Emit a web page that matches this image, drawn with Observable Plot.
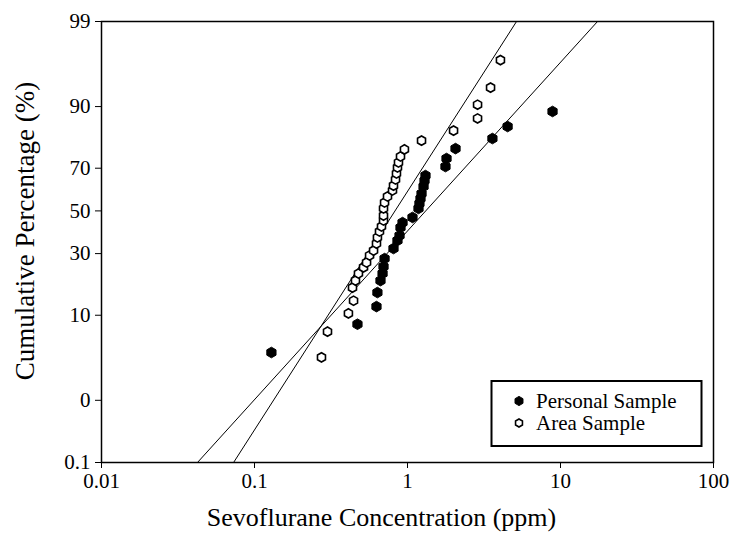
<!DOCTYPE html>
<html>
<head>
<meta charset="utf-8">
<script src="https://cdn.jsdelivr.net/npm/d3@7"></script>
<script src="https://cdn.jsdelivr.net/npm/@observablehq/plot@0.6"></script>
<style>
  html, body { margin: 0; padding: 0; background: #fff; }
</style>
</head>
<body>
<div id="chart"></div>
<script>
// ---- Data ----
const personalPpm = [0.129,0.471,0.627,0.636,0.666,0.687,0.697,0.708,0.810,0.860,0.887,0.900,0.928,1.078,1.180,1.197,1.216,1.235,1.273,1.292,1.311,1.771,1.799,2.06,3.59,4.51,8.87];
const personalPct = [4.1,8.2,12.0,15.8,19.6,22.1,24.7,27.9,32.2,35.8,38.1,41.9,44.3,46.8,51.2,53.6,56.0,58.4,61.8,64.5,66.8,70.7,74.0,77.8,81.3,85.0,88.9];
const areaPpm = [0.274,0.300,0.411,0.444,0.437,0.457,0.478,0.516,0.540,0.565,0.600,0.627,0.636,0.656,0.676,0.697,0.697,0.697,0.708,0.740,0.798,0.810,0.835,0.847,0.860,0.873,0.900,0.955,1.235,2.00,2.87,2.87,3.49,4.05];
const areaPct = [3.6,6.9,10.4,13.5,17.3,19.6,22.1,24.4,26.3,29.2,31.3,34.4,37.2,40.0,42.4,45.3,47.7,51.2,54.1,57.0,59.9,62.2,65.0,67.7,70.3,72.4,74.8,77.5,80.6,83.8,87.2,90.4,93.5,96.8];
const personalFitPpm = [0.0424, 17.46];
const personalFitPct = [0.1, 99];
const areaFitPpm = [0.0730, 5.16];
const areaFitPct = [0.1, 99];
const xTicks = [0.01, 0.1, 1, 10, 100];
const xTickLabels = ["0.01", "0.1", "1", "10", "100"];
const yTicks = [0.1, 1, 10, 30, 50, 70, 90, 99];
const yTickLabels = ["0.1", "0", "10", "30", "50", "70", "90", "99"];
const seriesNames = ["Personal Sample", "Area Sample"];
const xTitle = "Sevoflurane Concentration (ppm)";
const yTitle = "Cumulative Percentage (%)";

// ---- Probit (inverse normal CDF, Acklam) ----
function probit(p) {
  const a = [-3.969683028665376e+01, 2.209460984245205e+02, -2.759285104469687e+02, 1.383577518672690e+02, -3.066479806614716e+01, 2.506628277459239e+00];
  const b = [-5.447609879822406e+01, 1.615858368580409e+02, -1.556989798598866e+02, 6.680131188771972e+01, -1.328068155288572e+01];
  const c = [-7.784894002430293e-03, -3.223964580411365e-01, -2.400758277161838e+00, -2.549732539343734e+00, 4.374664141464968e+00, 2.938163982698783e+00];
  const d = [7.784695709041462e-03, 3.224671290700398e-01, 2.445134137142996e+00, 3.754408661907416e+00];
  const plow = 0.02425;
  let q, r;
  if (p < plow) {
    q = Math.sqrt(-2 * Math.log(p));
    return (((((c[0]*q+c[1])*q+c[2])*q+c[3])*q+c[4])*q+c[5]) / ((((d[0]*q+d[1])*q+d[2])*q+d[3])*q+1);
  } else if (p <= 1 - plow) {
    q = p - 0.5; r = q*q;
    return (((((a[0]*r+a[1])*r+a[2])*r+a[3])*r+a[4])*r+a[5])*q / (((((b[0]*r+b[1])*r+b[2])*r+b[3])*r+b[4])*r+1);
  } else {
    q = Math.sqrt(-2 * Math.log(1 - p));
    return -(((((c[0]*q+c[1])*q+c[2])*q+c[3])*q+c[4])*q+c[5]) / ((((d[0]*q+d[1])*q+d[2])*q+d[3])*q+1);
  }
}
const z = pct => probit(pct / 100);

const personal = personalPpm.map((v, i) => ({ppm: v, z: z(personalPct[i])}));
const area = areaPpm.map((v, i) => ({ppm: v, z: z(areaPct[i])}));
const personalFit = personalFitPpm.map((v, i) => ({ppm: v, z: z(personalFitPct[i])}));
const areaFit = areaFitPpm.map((v, i) => ({ppm: v, z: z(areaFitPct[i])}));
const yTickZ = yTicks.map(z);

const plot = Plot.plot({
  width: 736,
  height: 536,
  marginLeft: 101,
  marginRight: 23,
  marginTop: 21,
  marginBottom: 74,
  style: {fontFamily: "'Liberation Serif', 'Times New Roman', serif", fontSize: "21px", color: "black", background: "white"},
  x: {type: "log", domain: [0.01, 100]},
  y: {type: "linear", domain: [z(0.1), z(99)]},
  marks: [
    Plot.axisX({ticks: xTicks, tickFormat: (d) => xTickLabels[xTicks.indexOf(d)], tickSize: 6, tickPadding: 5, label: null, fontSize: 21}),
    Plot.axisY({ticks: yTickZ, tickFormat: (d, i) => yTickLabels[i], tickSize: 6, tickPadding: 5, label: null, fontSize: 21}),
    Plot.line(personalFit, {x: "ppm", y: "z", stroke: "black", strokeWidth: 1, clip: true}),
    Plot.line(areaFit, {x: "ppm", y: "z", stroke: "black", strokeWidth: 1, clip: true}),
    Plot.dot(area, {x: "ppm", y: "z", symbol: "hexagon", r: 4, fill: "white", stroke: "black", strokeWidth: 1.6}),
    Plot.dot(personal, {x: "ppm", y: "z", symbol: "hexagon", r: 4.6, fill: "black", stroke: "black", strokeWidth: 1}),
    Plot.frame({stroke: "black", strokeWidth: 1.5}),
    Plot.text([yTitle], {frameAnchor: "left", textAnchor: "middle", lineAnchor: "middle", rotate: -90, dx: -76, dy: -11, fontSize: 27, fill: "black"}),
    Plot.text([xTitle], {frameAnchor: "bottom", textAnchor: "middle", lineAnchor: "middle", dx: -26, dy: 55, fontSize: 26, fill: "black"})
  ]
});

// ---- Legend box inside the plot (bottom right) ----
const svg = d3.select(plot);
const lg = svg.append("g")
  .attr("font-family", "'Liberation Serif', 'Times New Roman', serif")
  .attr("font-size", 21)
  .attr("text-anchor", "start");
lg.append("rect").attr("x", 491.5).attr("y", 381).attr("width", 210).attr("height", 65)
  .attr("fill", "white").attr("stroke", "black").attr("stroke-width", 2);
const hexPath = (() => {
  const r = 4.6, pts = [];
  for (let k = 0; k < 6; k++) { const a = Math.PI / 3 * k - Math.PI / 2; pts.push([r * Math.cos(a), r * Math.sin(a)]); }
  return "M" + pts.map(p => p.map(v => v.toFixed(2)).join(",")).join("L") + "Z";
})();
lg.append("path").attr("d", hexPath).attr("transform", "translate(519,401)").attr("fill", "black").attr("stroke", "black");
lg.append("path").attr("d", hexPath).attr("transform", "translate(519,423) scale(0.87)").attr("fill", "white").attr("stroke", "black").attr("stroke-width", 1.8);
lg.append("text").attr("x", 536).attr("y", 401).attr("dy", "0.35em").attr("text-anchor", "start").attr("fill", "black").text(seriesNames[0]);
lg.append("text").attr("x", 536).attr("y", 423).attr("dy", "0.35em").attr("text-anchor", "start").attr("fill", "black").text(seriesNames[1]);

document.getElementById("chart").appendChild(plot);
</script>
</body>
</html>
